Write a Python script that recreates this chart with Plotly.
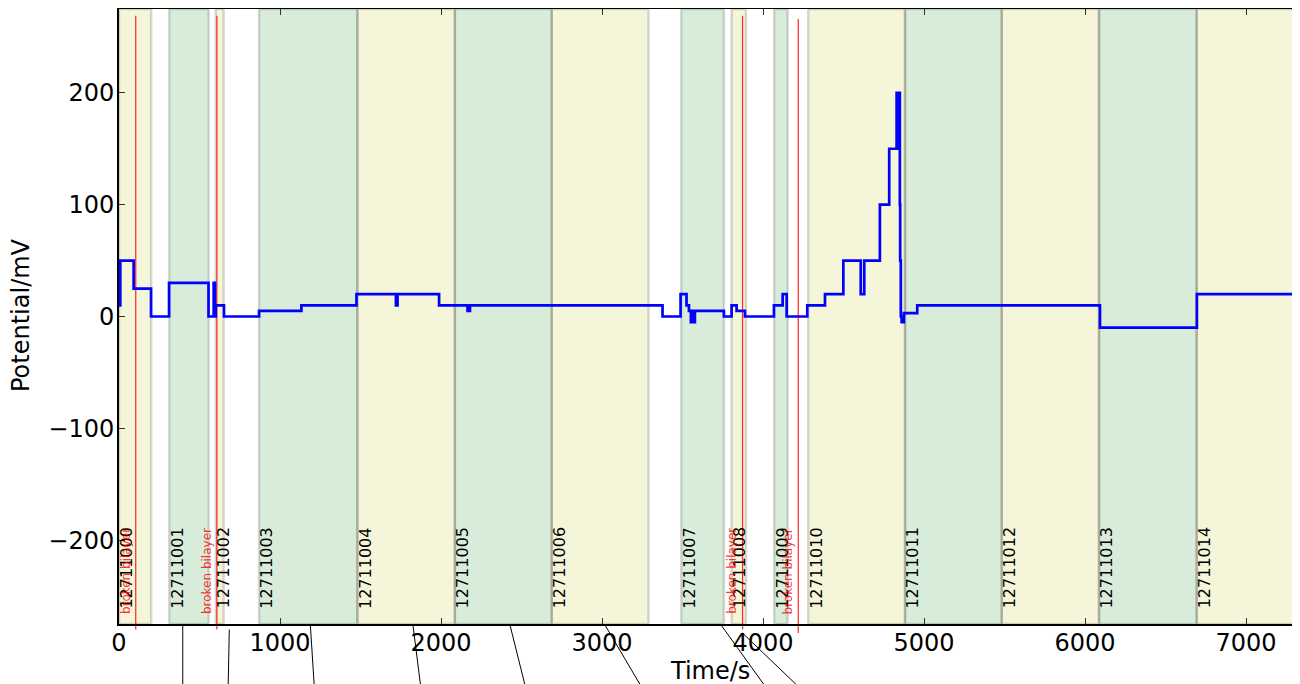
import plotly.graph_objects as go

# ---------------- data ----------------
time_s = [0, 8, 91, 199, 311, 556, 588, 596, 601, 652, 870, 1133, 1475, 1720, 1730,
          1988, 2165, 2180, 3376, 3488, 3525, 3540, 3552, 3558, 3565, 3577, 3757,
          3805, 3836, 3888, 4068, 4122, 4147, 4275, 4385, 4499, 4607, 4629, 4726,
          4784, 4830, 4834, 4837, 4841, 4844, 4850, 4852, 4856, 4861, 4866, 4870,
          4875, 4958, 6093, 6695, 7323]
potential_mV = [10, 50, 25, 0, 30, 0, 30, 0, 10, 0, 5, 10, 20, 10, 20,
                10, 5, 10, 0, 20, 10, 5, -5, 5, -5, 5, 0,
                10, 5, 0, 10, 20, 0, 10, 20, 50, 20, 50, 100,
                150, 200, 150, 200, 150, 200, 100, 50, 0, -5, 0, -5,
                3, 10, -10, 20, 20]

run_labels = ["12711000", "12711001", "12711002", "12711003", "12711004",
              "12711005", "12711006", "12711007", "12711008", "12711009",
              "12711010", "12711011", "12711012", "12711013", "12711014"]
run_start = [0, 312, 601, 870, 1481, 2086, 2688, 3492, 3805, 4069,
             4281, 4882, 5483, 6087, 6694]
run_end = [200, 557, 650, 1481, 2086, 2688, 3289, 3757, 3894, 4153,
           4882, 5483, 6087, 6694, 7298]

broken_times = [104, 608, 3873, 4219]
broken_top = [269, 269, 269, 266]
broken_bottom = [-280, -280, -280, -283]
broken_text = "broken bilayer"

# leader lines running off below the axes (data x, data-like y)
lead_x0 = [396, 685, 1188, 1825, 2427, 3015, 3735, 3872]
lead_x1 = [396, 678, 1213, 1874, 2524, 3244, 4015, 4220]
lead_y0 = [-275, -280, -275, -275, -275, -275, -275, -283]
lead_y1 = [-331, -331, -331, -331, -331, -331, -331, -331]

x_ticks = [0, 1000, 2000, 3000, 4000, 5000, 6000, 7000]
y_ticks = [-200, -100, 0, 100, 200]
y_tick_text = ["\u2212200", "\u2212100", "0", "100", "200"]

x_title = "Time/s"
y_title = "Potential/mV"

X_RANGE = [0, 7323]
Y_RANGE = [-275, 275]

# ---------------- styles ----------------
FONT = "DejaVu Sans"
YELLOW = "rgba(191,191,0,0.15)"
GREEN = "rgba(0,128,0,0.15)"
EDGE = "rgba(0,0,0,0.15)"


def xp(t):
    return (t - X_RANGE[0]) / (X_RANGE[1] - X_RANGE[0])


def yp(v):
    return (v - Y_RANGE[0]) / (Y_RANGE[1] - Y_RANGE[0])


fig = go.Figure()
fig.add_trace(go.Scatter(x=time_s, y=potential_mV, mode="lines",
                         line=dict(shape="hv", color="#0000ff", width=2.7),
                         hoverinfo="skip"))

shapes = []
annotations = []
for i, (lab, s, e) in enumerate(zip(run_labels, run_start, run_end)):
    col = YELLOW if i % 2 == 0 else GREEN
    shapes.append(dict(type="rect", xref="x", yref="paper", x0=s, x1=e, y0=0, y1=1,
                       fillcolor=col, line=dict(color=EDGE, width=2.5), layer="below"))
    annotations.append(dict(x=s, y=-263, xref="x", yref="y", text=lab, textangle=-90,
                            xanchor="left", yanchor="bottom", showarrow=False,
                            xshift=-4, font=dict(family=FONT, size=16, color="black")))

for t, top, bot in zip(broken_times, broken_top, broken_bottom):
    shapes.append(dict(type="line", xref="paper", yref="paper", x0=xp(t), x1=xp(t),
                       y0=yp(bot), y1=yp(top),
                       line=dict(color="rgba(255,0,0,0.85)", width=1.2), layer="below"))
    annotations.append(dict(x=t, y=-268, xref="x", yref="y", text=broken_text,
                            textangle=-90, xanchor="right", yanchor="bottom",
                            showarrow=False, xshift=-1,
                            font=dict(family=FONT, size=12, color="rgba(255,0,0,0.8)")))

for a0, a1, b0, b1 in zip(lead_x0, lead_x1, lead_y0, lead_y1):
    shapes.append(dict(type="line", xref="paper", yref="paper", x0=xp(a0), x1=xp(a1),
                       y0=yp(b0), y1=yp(b1), line=dict(color="black", width=1)))

# axis titles as annotations (precise placement)
annotations.append(dict(x=0.501, y=-0.076, xref="paper", yref="paper", text=x_title,
                        showarrow=False, xanchor="center", yanchor="middle",
                        font=dict(family=FONT, size=24, color="black")))
annotations.append(dict(x=-0.0825, y=0.502, xref="paper", yref="paper", text=y_title,
                        textangle=-90, showarrow=False, xanchor="center",
                        yanchor="middle", font=dict(family=FONT, size=24, color="black")))

axis_common = dict(showline=True, linewidth=2, linecolor="black", mirror="ticks",
                   ticks="inside", ticklen=6, tickwidth=1.3, tickcolor="#333333",
                   showgrid=False, zeroline=False, automargin=False,
                   tickfont=dict(family=FONT, size=24, color="black"))

# the page body carries an 8px default margin; size the figure to compensate
fig.update_layout(
    width=1292, height=676,
    margin=dict(l=111, r=2, t=1, b=60),
    plot_bgcolor="white", paper_bgcolor="white",
    showlegend=False,
    font=dict(family=FONT, color="black"),
    shapes=shapes, annotations=annotations,
    xaxis=dict(range=X_RANGE, tickvals=x_ticks, ticklabelstandoff=-4, **axis_common),
    yaxis=dict(range=Y_RANGE, tickvals=y_ticks, ticktext=y_tick_text,
               ticklabelstandoff=-2, **axis_common),
)

fig.write_html("out.html")
